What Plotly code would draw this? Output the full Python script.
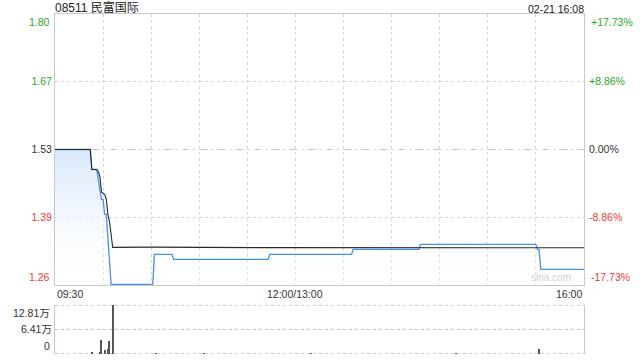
import plotly.graph_objects as go

# ---- data ----
prev_close = 1.53
pct_range = 17.73
pct_ticks = [-8.86, 0.0, 8.86]

# price (minute since 09:30 on trading clock, price)
price_min = [0, 22, 23, 26, 28, 29, 30, 31, 32, 33, 34, 35, 61, 62, 73, 74, 133, 134,
             185, 186, 227, 228, 300, 301, 302, 303, 330]
price_val = [1.53, 1.53, 1.49, 1.49, 1.45, 1.43, 1.43, 1.40, 1.40, 1.35, 1.30, 1.26, 1.26, 1.32,
             1.32, 1.31, 1.31, 1.32, 1.32, 1.33, 1.33, 1.34, 1.34, 1.33, 1.33, 1.29, 1.29]

avg_min = [0, 22, 23, 26, 27, 28, 29, 30, 31, 32, 33, 34, 35, 36, 60, 134, 330]
avg_val = [1.53, 1.53, 1.49, 1.49, 1.486, 1.476, 1.445, 1.442, 1.44, 1.43, 1.40, 1.385, 1.36,
           1.334, 1.3345, 1.3335, 1.3332]

vol_min = [23, 28, 29, 31, 33, 34, 36, 63, 93, 160, 250, 302]
vol_val = [3000, 5000, 36600, 10000, 13000, 35000, 128100, 1500, 1000, 800, 800, 13000]

x_labels = ["09:30", "12:00/13:00", "16:00"]
x_label_pos = [0, 150, 330]
title_text = "08511 民富国际"
time_text = "02-21 16:08"

# ---- derived ----
ymin = prev_close * (1 - pct_range / 100)
ymax = prev_close * (1 + pct_range / 100)
price_ticks = [prev_close * (1 + p / 100) for p in pct_ticks]
vmax = max(vol_val)

GREEN = "#1fa81f"
RED = "#f23a3a"
DARK = "#333333"
FONT = "Liberation Sans, Arial, Noto Sans CJK SC, sans-serif"


def col(v, ref):
    if abs(v - ref) < 1e-9:
        return DARK
    return GREEN if v > ref else RED


fig = go.Figure()

fig.add_trace(go.Scatter(
    x=price_min, y=price_val, mode="lines",
    line=dict(color="#4a8fe9", width=1.3),
    fill="tozeroy",
    fillgradient=dict(type="vertical",
                      colorscale=[[0, "rgba(255,255,255,0.2)"], [1, "rgba(218,231,250,1)"]],
                      start=ymin, stop=prev_close),
    xaxis="x", yaxis="y", hoverinfo="skip", showlegend=False))

fig.add_trace(go.Scatter(
    x=avg_min, y=avg_val, mode="lines",
    line=dict(color="#2a2a2a", width=1.1),
    xaxis="x", yaxis="y", hoverinfo="skip", showlegend=False))

# invisible trace for right percent axis
fig.add_trace(go.Scatter(x=[0, 330], y=[-pct_range, pct_range], mode="markers",
                         marker=dict(opacity=0), xaxis="x", yaxis="y2",
                         hoverinfo="skip", showlegend=False))

fig.add_trace(go.Bar(
    x=vol_min, y=vol_val, width=0.7,
    marker=dict(color="#555555", line=dict(width=0)),
    xaxis="x2", yaxis="y3", hoverinfo="skip", showlegend=False))

grid = "#d6d6d6"
border = "#c8c8c8"

fig.update_layout(
    width=640, height=360,
    margin=dict(l=55, r=56, t=14, b=6),
    paper_bgcolor="white", plot_bgcolor="white",
    font=dict(family=FONT, size=10.5, color=DARK),
    bargap=0,
    xaxis=dict(domain=[0, 1], anchor="y", range=[0, 330],
               tickvals=list(range(0, 331, 30)), showticklabels=False, ticks="",
               showgrid=True, gridcolor=grid, griddash="dot", gridwidth=1,
               showline=True, mirror=True, linecolor=border, linewidth=1, zeroline=False),
    yaxis=dict(domain=[0.2029, 1], anchor="x", range=[ymin, ymax],
               tickvals=price_ticks,
               ticktext=[f'<span style="color:{col(v, prev_close)}">{v:.2f}</span>' for v in price_ticks],
               ticks="", showgrid=True, gridcolor=grid, griddash="dot",
               showline=True, mirror=True, linecolor=border, linewidth=1, zeroline=False),
    yaxis2=dict(overlaying="y", side="right", anchor="x", range=[-pct_range, pct_range],
                tickvals=pct_ticks,
                ticktext=[f'<span style="color:{col(p, 0)}">{"+" if p > 0 else ""}{p:.2f}%</span>'
                          for p in pct_ticks],
                ticks="", ticklabelstandoff=4, showgrid=False, showline=False, zeroline=False),
    xaxis2=dict(domain=[0, 1], anchor="y3", range=[0, 330], showticklabels=False,
                showgrid=False, showline=False, zeroline=False, ticks=""),
    yaxis3=dict(domain=[0, 0.1441], anchor="x2", range=[0, vmax],
                tickvals=[vmax / 2], ticktext=[f"{vmax / 2 / 10000:.2f}万"],
                ticks="", showgrid=True, gridcolor="#c0c0c0", griddash="dot",
                showline=True, mirror=True, linecolor=border, zeroline=False),
)

# prev close dashed line
fig.add_shape(type="line", xref="x", yref="y", x0=0, x1=330, y0=prev_close, y1=prev_close,
              line=dict(color="#bdbdbd", width=1, dash="dash"), layer="below")
# volume top/bottom dotted lines
for v in [0, vmax]:
    fig.add_shape(type="line", xref="x2", yref="y3", x0=0, x1=330, y0=v, y1=v,
                  line=dict(color="#a0a0a0", width=1, dash="dot"), layer="below")

ann = []
# edge price labels
ann.append(dict(xref="paper", x=0, xanchor="right", xshift=-3, yref="y", y=ymax, yanchor="top",
                text=f"{ymax:.2f}", font=dict(color=GREEN), showarrow=False))
ann.append(dict(xref="paper", x=0, xanchor="right", xshift=-3, yref="y", y=ymin, yanchor="bottom",
                text=f"{ymin:.2f}", font=dict(color=RED), showarrow=False))
ann.append(dict(xref="paper", x=1, xanchor="left", xshift=5, yref="y2", y=pct_range, yanchor="top",
                text=f"+{pct_range:.2f}%", font=dict(color=GREEN), showarrow=False))
ann.append(dict(xref="paper", x=1, xanchor="left", xshift=5, yref="y2", y=-pct_range, yanchor="bottom",
                text=f"-{pct_range:.2f}%", font=dict(color=RED), showarrow=False))
# volume edge labels
ann.append(dict(xref="paper", x=0, xanchor="right", xshift=-3, yref="y3", y=vmax, yanchor="top",
                text=f"{vmax / 10000:.2f}万", showarrow=False))
ann.append(dict(xref="paper", x=0, xanchor="right", xshift=-3, yref="y3", y=0, yanchor="bottom",
                text="0", showarrow=False))
# x labels
for lab, pos, anc in zip(x_labels, x_label_pos, ["left", "center", "right"]):
    ann.append(dict(xref="x", x=pos, xanchor=anc, yref="paper", y=0.2029, yanchor="top", yshift=-1,
                    text=lab, showarrow=False))
# title and time
ann.append(dict(xref="paper", x=0, xanchor="left", xshift=-2, yref="paper", y=1, yanchor="bottom",
                yshift=-3, text=title_text, font=dict(size=12, color="#222"), showarrow=False))
ann.append(dict(xref="paper", x=1, xanchor="right", xshift=2, yref="paper", y=1, yanchor="bottom",
                yshift=-3, text=time_text, font=dict(size=10.5, color="#222"), showarrow=False))
# watermark
ann.append(dict(xref="paper", x=0.98, xanchor="right", yref="y", y=ymin, yanchor="bottom",
                text="sina.com", font=dict(size=10, color="#d2d2d2"), showarrow=False))

fig.update_layout(annotations=ann)

fig.write_html("out.html")
